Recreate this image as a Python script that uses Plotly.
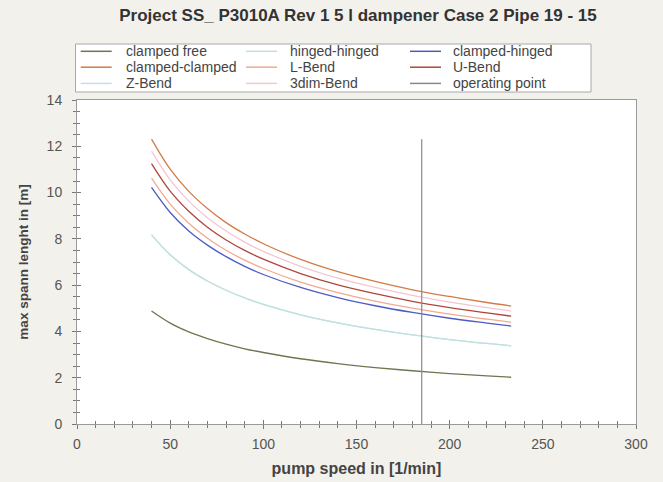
import plotly.graph_objects as go

speed = [40, 50, 60, 70, 80, 90, 100, 120, 140, 160, 180, 200, 220, 233]

clamped_free    = [4.88, 4.36, 3.98, 3.69, 3.45, 3.25, 3.09, 2.82, 2.61, 2.44, 2.30, 2.18, 2.08, 2.02]
hinged_hinged   = [8.17, 7.31, 6.67, 6.18, 5.78, 5.45, 5.17, 4.72, 4.37, 4.09, 3.85, 3.65, 3.48, 3.38]
clamped_hinged  = [10.22, 9.14, 8.34, 7.73, 7.23, 6.81, 6.46, 5.90, 5.46, 5.11, 4.82, 4.57, 4.36, 4.23]
clamped_clamped = [12.31, 11.01, 10.05, 9.31, 8.70, 8.21, 7.79, 7.11, 6.58, 6.16, 5.80, 5.51, 5.25, 5.10]
l_bend          = [10.62, 9.50, 8.67, 8.03, 7.51, 7.08, 6.72, 6.13, 5.68, 5.31, 5.01, 4.75, 4.53, 4.40]
u_bend          = [11.25, 10.06, 9.19, 8.50, 7.95, 7.50, 7.12, 6.50, 6.01, 5.63, 5.30, 5.03, 4.80, 4.66]
z_bend          = [8.17, 7.31, 6.67, 6.18, 5.78, 5.45, 5.17, 4.72, 4.37, 4.09, 3.85, 3.65, 3.48, 3.38]
dim3_bend       = [11.79, 10.55, 9.63, 8.91, 8.34, 7.86, 7.46, 6.81, 6.30, 5.90, 5.56, 5.27, 5.03, 4.88]

op_speed = [185, 185]
op_len = [0, 12.3]

legend_names = ["clamped free", "hinged-hinged", "clamped-hinged",
                "clamped-clamped", "L-Bend", "U-Bend",
                "Z-Bend", "3dim-Bend", "operating point"]
colors = {
    "clamped free": "#6a7850",
    "hinged-hinged": "#bfe2dc",
    "clamped-hinged": "#4c5cc2",
    "clamped-clamped": "#d27c48",
    "L-Bend": "#f2aa90",
    "U-Bend": "#b0463a",
    "Z-Bend": "#c8dcf0",
    "3dim-Bend": "#f3c6d2",
    "operating point": "#8a8a8a",
}
# drawing order (Z-Bend underneath hinged-hinged)
draw = [("Z-Bend", z_bend), ("clamped free", clamped_free), ("hinged-hinged", hinged_hinged),
        ("clamped-hinged", clamped_hinged), ("L-Bend", l_bend), ("3dim-Bend", dim3_bend),
        ("U-Bend", u_bend), ("clamped-clamped", clamped_clamped)]

W, H = 663, 482
L, R, T, B = 77, 636, 100, 424


def px(x):
    return (x - L) / (R - L)


def py(y):
    return (B - y) / (B - T)


fig = go.Figure()
for name, vals in draw:
    fig.add_trace(go.Scatter(x=speed, y=vals, mode="lines", name=name, showlegend=False,
                             line=dict(color=colors[name], width=1.3, shape="spline")))
fig.add_trace(go.Scatter(x=op_speed, y=op_len, mode="lines", name="operating point",
                         showlegend=False, line=dict(color=colors["operating point"], width=1.2)))

font = "Liberation Sans, Arial, sans-serif"

# legend box drawn as shapes + text
shapes = [dict(type="rect", xref="paper", yref="paper",
               x0=px(75.5), x1=px(591), y0=py(92), y1=py(44),
               fillcolor="#ffffff", line=dict(color="#a8a8a8", width=1), layer="above")]
annotations = []
col_line = [(80.7, 111.7), (246, 277), (410, 441)]
col_text = [124, 287.6, 450.7]
rows = [51.3, 67.2, 83.4]
for i, name in enumerate(legend_names):
    r, c = divmod(i, 3)
    shapes.append(dict(type="line", xref="paper", yref="paper",
                       x0=px(col_line[c][0]), x1=px(col_line[c][1]),
                       y0=py(rows[r]), y1=py(rows[r]),
                       line=dict(color=colors[name], width=1.5), layer="above"))
    annotations.append(dict(text=name, xref="paper", yref="paper",
                            x=px(col_text[c]), y=py(rows[r]), xanchor="left", yanchor="middle",
                            showarrow=False, font=dict(size=14, color="#444444", family=font)))

tick_col = "#777777"
fig.update_layout(
    width=W, height=H,
    paper_bgcolor="#f3f1ec", plot_bgcolor="#ffffff",
    margin=dict(l=L, r=W - R, t=T, b=H - B, autoexpand=False),
    font=dict(family=font, size=14, color="#555555"),
    title=dict(text="<b>Project SS_ P3010A Rev 1 5 l dampener Case 2 Pipe 19 - 15</b>",
               x=358 / W, xanchor="center", y=1 - 15 / H, yanchor="middle",
               font=dict(size=17, color="#333333")),
    showlegend=False,
    hovermode=False,
    shapes=shapes,
    annotations=annotations,
    xaxis=dict(range=[0, 300], dtick=50, tick0=0, ticks="outside", ticklen=4,
               tickcolor=tick_col, showline=True, linecolor="#999999", mirror=True,
               showgrid=False, zeroline=False, automargin=False, ticklabelstandoff=3,
               minor=dict(dtick=10, ticks="outside", ticklen=3, tickcolor=tick_col),
               title=dict(text="<b>pump speed in [1/min]</b>", standoff=12,
                          font=dict(size=16, color="#444444"))),
    yaxis=dict(range=[0, 14], dtick=2, tick0=0, ticks="outside", ticklen=4,
               tickcolor=tick_col, showline=True, linecolor="#999999", mirror=True,
               showgrid=False, zeroline=False, automargin=False, ticklabelstandoff=7,
               minor=dict(dtick=0.5, ticks="outside", ticklen=3, tickcolor=tick_col),
               title=dict(text="<b>max spann lenght in [m]</b>", standoff=14,
                          font=dict(size=13.5, color="#444444"))),
    xaxis2=dict(range=[0, 300], dtick=50, tick0=0, overlaying="x", anchor="y", side="bottom",
                ticks="inside", ticklen=4, tickcolor=tick_col, showticklabels=False,
                showgrid=False, zeroline=False, showline=False, automargin=False,
                minor=dict(dtick=10, ticks="inside", ticklen=3, tickcolor=tick_col)),
    yaxis2=dict(range=[0, 14], dtick=2, tick0=0, overlaying="y", anchor="x", side="left",
                ticks="inside", ticklen=4, tickcolor=tick_col, showticklabels=False,
                showgrid=False, zeroline=False, showline=False, automargin=False,
                minor=dict(dtick=0.5, ticks="inside", ticklen=3, tickcolor=tick_col)),
)
# invisible helper trace so the overlay axes are rendered
fig.add_trace(go.Scatter(x=[0], y=[0], xaxis="x2", yaxis="y2", mode="markers",
                         marker=dict(opacity=0), showlegend=False, hoverinfo="skip"))

fig.write_html("out.html", config={"displayModeBar": False, "staticPlot": True},
               post_script="document.body.style.margin='0px';document.body.style.padding='0px';"
                           "document.body.style.background='#f3f1ec';")
